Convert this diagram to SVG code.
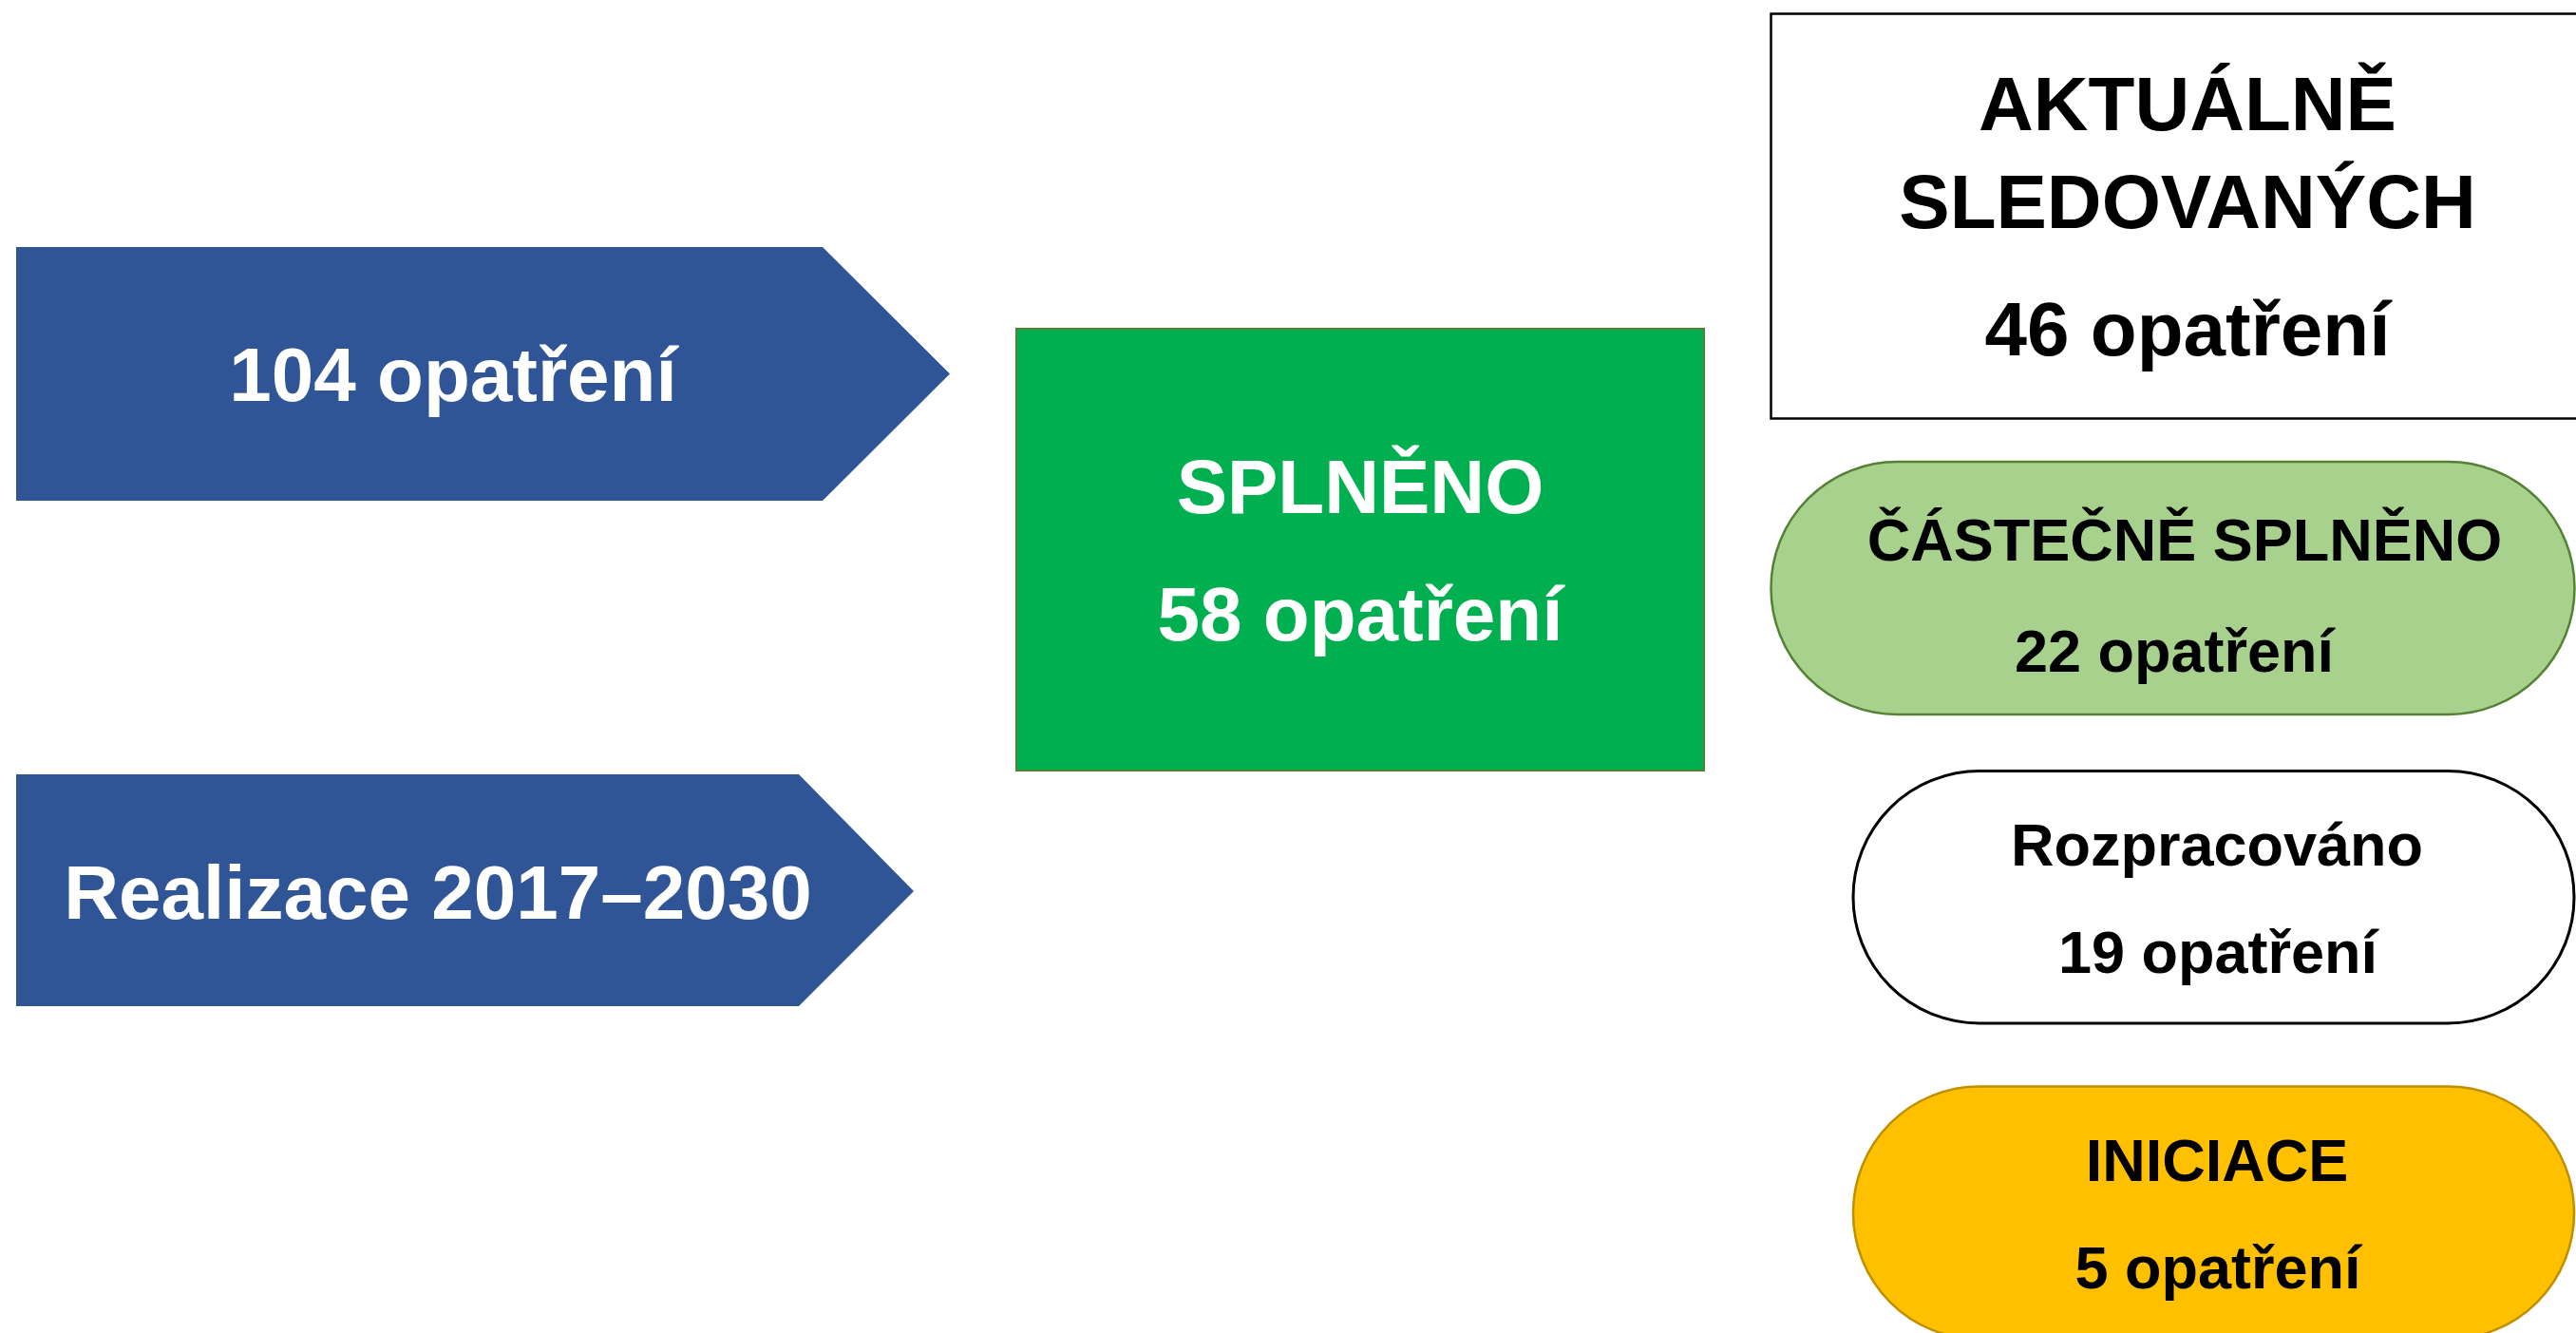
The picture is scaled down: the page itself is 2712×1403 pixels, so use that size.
<svg xmlns="http://www.w3.org/2000/svg" width="2712" height="1403" viewBox="0 0 2712 1403">
<style>
text{font-family:"Liberation Sans",Arial,sans-serif;font-weight:bold;text-anchor:middle}
.w{fill:#ffffff}
.k{fill:#000000}
.big{font-size:80px}
.mid{font-size:63px}
</style>
<rect x="0" y="0" width="2712" height="1403" fill="#ffffff"/>
<g id="arrow-104">
<path d="M17,260 L866,260 L1000,393.5 L866,527 L17,527 Z" fill="#2F5597"/>
<text class="w big" x="477" y="422">104 opatření</text>
</g>
<g id="arrow-realizace">
<path d="M17,815 L841,815 L962,938 L841,1059 L17,1059 Z" fill="#2F5597"/>
<text class="w big" x="461" y="967">Realizace 2017–2030</text>
</g>
<g id="splneno">
<rect x="1070" y="346" width="724" height="465" fill="#00B050" stroke="#548235" stroke-width="2"/>
<text class="w big" x="1432" y="540">SPLNĚNO</text>
<text class="w big" x="1432" y="674">58 opatření</text>
</g>
<g id="aktualne">
<rect x="1864.5" y="14.5" width="880" height="426" fill="#ffffff" stroke="#000000" stroke-width="2.5"/>
<text class="k big" x="2303" y="137">AKTUÁLNĚ</text>
<text class="k big" x="2303" y="240">SLEDOVANÝCH</text>
<text class="k big" x="2303" y="374">46 opatření</text>
</g>
<g id="castecne">
<rect x="1864.5" y="486" width="846" height="266" rx="133" ry="133" fill="#A9D18E" stroke="#548235" stroke-width="2.5"/>
<text class="k mid" x="2300" y="590">ČÁSTEČNĚ SPLNĚNO</text>
<text class="k mid" x="2289" y="707">22 opatření</text>
</g>
<g id="rozpracovano">
<rect x="1951" y="811.5" width="759" height="265.5" rx="133" ry="133" fill="#ffffff" stroke="#000000" stroke-width="3"/>
<text class="k mid" x="2334" y="911">Rozpracováno</text>
<text class="k mid" x="2335" y="1024">19 opatření</text>
</g>
<g id="iniciace">
<rect x="1951" y="1143.5" width="759" height="266" rx="133" ry="133" fill="#FFC000" stroke="#BF9000" stroke-width="2.5"/>
<text class="k mid" x="2334" y="1243">INICIACE</text>
<text class="k mid" x="2335" y="1356">5 opatření</text>
</g>
<g id="connectors"></g>
</svg>
